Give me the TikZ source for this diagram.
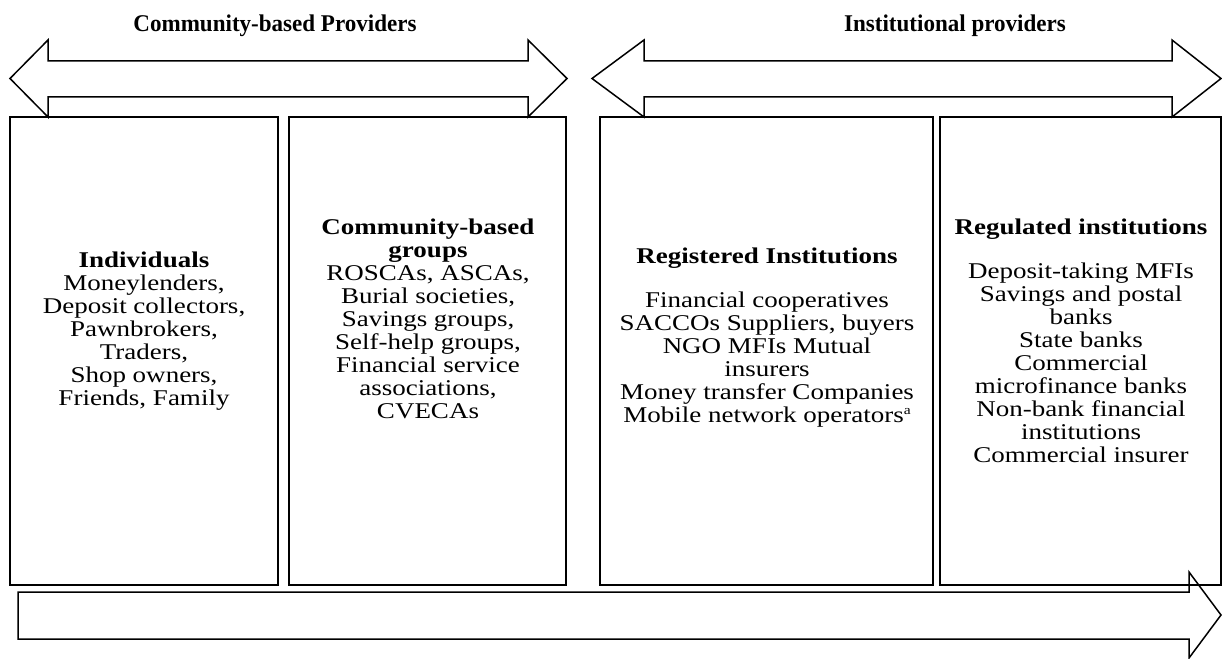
\documentclass[tikz,border=0pt]{standalone}
\usepackage{fontspec}
\setmainfont{Liberation Serif}
\newfontfamily\widefont[FakeStretch=1.2]{Liberation Serif}
\newfontfamily\headfont[FakeStretch=0.96]{Liberation Serif}
\begin{document}
\begin{tikzpicture}[x=1pt,y=-1pt,
  outline/.style={draw=black, line width=1.5pt, line join=miter},
  panel/.style={draw=black, line width=1.5pt, rectangle, inner sep=0pt},
  boxtext/.style={align=center, font=\widefont\fontsize{22.5}{23}\selectfont, anchor=north, inner sep=0pt},
  heading/.style={font=\headfont\fontsize{24}{27}\selectfont\bfseries, inner sep=0pt}]
\useasboundingbox (0,0) rectangle (1222,658);

% titles
\node[heading] (t1) at (275,26) {Community-based Providers};
\node[heading] (t2) at (955,26) {Institutional providers};

% double arrows
\draw[outline] (10,78.5) -- (48,40) -- (48,61) -- (528,61) -- (528,40) -- (567,78.5)
  -- (528,117) -- (528,97) -- (48,97) -- (48,117) -- cycle;
\draw[outline] (592,78.5) -- (644,40) -- (644,61) -- (1172,61) -- (1172,40) -- (1221,78.5)
  -- (1172,117) -- (1172,97) -- (644,97) -- (644,117) -- cycle;

% panels
\node[panel, minimum width=268pt, minimum height=468pt] (b1) at (144,351) {};
\node[panel, minimum width=277pt, minimum height=468pt] (b2) at (427.5,351) {};
\node[panel, minimum width=333pt, minimum height=468pt] (b3) at (766.5,351) {};
\node[panel, minimum width=281pt, minimum height=468pt] (b4) at (1080.5,351) {};

% bottom arrow
\draw[outline] (18,592) -- (1189,592) -- (1189,572) -- (1221,615) -- (1189,658)
  -- (1189,639) -- (18,639) -- cycle;

% texts
\node[boxtext] (x1) at (144,251.5) {\textbf{Individuals}\\Moneylenders,\\Deposit collectors,\\Pawnbrokers,\\Traders,\\Shop owners,\\Friends, Family};
\node[boxtext] (x2) at (428,218.5) {\textbf{Community-based}\\\textbf{groups}\\ROSCAs, ASCAs,\\Burial societies,\\Savings groups,\\Self-help groups,\\Financial service\\associations,\\CVECAs};
\node[boxtext] (x3) at (767,247.5) {\textbf{Registered Institutions}\\[21pt]Financial cooperatives\\SACCOs Suppliers, buyers\\NGO MFIs Mutual\\insurers\\Money transfer Companies\\Mobile network operators\raisebox{0.36em}{\smash{\fontsize{13}{13}\selectfont a}}};
\node[boxtext] (x4) at (1081,218.5) {\textbf{Regulated institutions}\\[21pt]Deposit-taking MFIs\\Savings and postal\\banks\\State banks\\Commercial\\microfinance banks\\Non-bank financial\\institutions\\Commercial insurer};
\end{tikzpicture}
\end{document}
